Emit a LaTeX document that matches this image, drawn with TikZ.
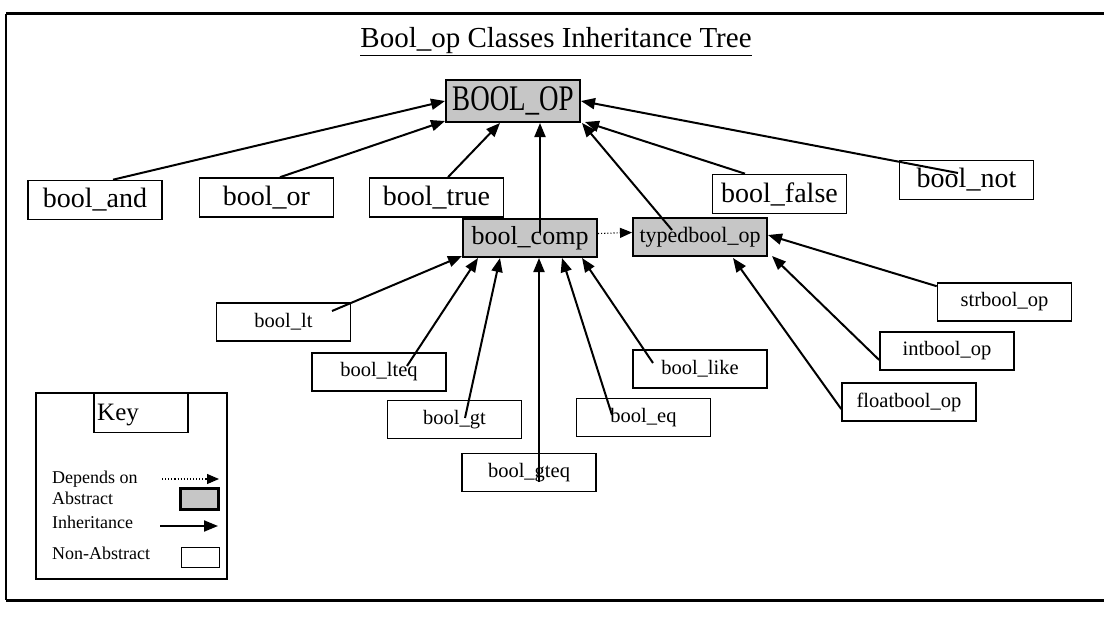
\documentclass[tikz,border=0pt]{standalone}
\usepackage{fontspec}
\setmainfont{Liberation Serif}
\usetikzlibrary{arrows.meta,calc}
\begin{document}
\begin{tikzpicture}[x=1pt,y=-1pt,
  box/.style={draw, line width=1.6pt, inner sep=0pt, minimum width=134pt, minimum height=38pt, font=\fontsize{20.5}{22}\selectfont},
  bigbox/.style={box, minimum height=39pt, font=\fontsize{28}{30}\selectfont},
  absbox/.style={box, fill=gray!45, line width=2pt},
  inh/.style={line width=2pt, -{Triangle[length=14pt,width=11pt]}},
  dep/.style={line width=1.1pt, dotted, -{Triangle[length=12pt,width=10pt]}},
  keytxt/.style={anchor=west, inner sep=0pt, font=\fontsize{18}{20}\selectfont},
]
\useasboundingbox (0,0) rectangle (1104,618);
% frame
\draw[line width=3pt] (1104,14) -- (6,14);
\draw[line width=2pt] (6,14) -- (6,600);
\draw[line width=3pt] (6,600) -- (1104,600);

% title
\node (title) at (556,42) {\fontsize{29}{30}\selectfont\underline{Bool\_op Classes Inheritance Tree}};

% nodes
\node[absbox, minimum height=42pt, font=\fontsize{36}{38}\selectfont] (boolop) at (513,101) {\scalebox{0.75}[1]{BOOL\_OP}};
\node[bigbox] (and) at (95,200) {bool\_and};
\node[bigbox] (or) at (266.5,197.5) {bool\_or};
\node[bigbox] (true) at (436.5,197.5) {bool\_true};
\node[bigbox] (false) at (779.5,194) {bool\_false};
\node[bigbox] (not) at (966.5,180) {bool\_not};
\node[absbox, font=\fontsize{26}{28}\selectfont] (comp) at (530,238) {bool\_comp};
\node[absbox, font=\fontsize{22}{24}\selectfont] (typed) at (700,237) {typedbool\_op};
\node[box] (lt) at (283.5,322) {bool\_lt};
\node[box] (lteq) at (379,372) {bool\_lteq};
\node[box] (gt) at (454.5,419.5) {bool\_gt};
\node[box] (gteq) at (529,472.5) {bool\_gteq};
\node[box] (eq) at (643.5,417.5) {bool\_eq};
\node[box] (like) at (700,369) {bool\_like};
\node[box] (str) at (1004.5,302) {strbool\_op};
\node[box] (int) at (947,351) {intbool\_op};
\node[box] (float) at (909,402) {floatbool\_op};

% inheritance to BOOL_OP
\draw[inh] ([xshift=18pt]and.north) -- (boolop.west);
\draw[inh] ([xshift=13.5pt]or.north) -- ([yshift=2pt]boolop.south west);
\draw[inh] ([xshift=11.5pt]true.north) -- ([xshift=-13pt]boolop.south);
\draw[inh] ([xshift=10pt,yshift=-14pt]comp.north) -- ([xshift=27pt]boolop.south);
\draw[inh] ([xshift=-28pt,yshift=7pt]typed.center) -- ([xshift=1pt]boolop.south east);
\draw[inh] ([xshift=-34.5pt]false.north) -- ([xshift=4pt,yshift=1pt]boolop.south east);
\draw[inh] ([xshift=-8.5pt,yshift=7pt]not.center) -- (boolop.east);
% depends
\draw[dep] ([yshift=4.5pt]comp.east) -- ([yshift=4.5pt]typed.west);
% inheritance to bool_comp
\draw[inh] ([xshift=48.5pt,yshift=11pt]lt.center) -- ([yshift=2pt]comp.south west);
\draw[inh] ([xshift=28pt,yshift=6pt]lteq.center) -- ([xshift=-52pt]comp.south);
\draw[inh] ([xshift=10.5pt,yshift=1.5pt]gt.center) -- ([xshift=-30pt]comp.south);
\draw[inh] ([xshift=10pt,yshift=-9.5pt]gteq.center) -- ([xshift=9pt]comp.south);
\draw[inh] ([xshift=-31.5pt,yshift=2.5pt]eq.center) -- ([xshift=32pt]comp.south);
\draw[inh] ([xshift=-47pt,yshift=6pt]like.center) -- ([xshift=52pt]comp.south);
% inheritance to typedbool_op
\draw[inh] ([yshift=-4pt]str.north west) -- ([yshift=2pt]typed.east);
\draw[inh] ([yshift=-9pt]int.west) -- ([xshift=4pt,yshift=1pt]typed.south east);
\draw[inh] ([yshift=-7pt]float.west) -- ([xshift=33pt,yshift=-1pt]typed.south);

% key
\node[draw, line width=2pt, minimum width=191pt, minimum height=186pt, inner sep=0pt] (key) at (131.5,486) {};
\node[draw, line width=1.3pt, minimum width=94pt, minimum height=39pt, inner sep=0pt] (keyt) at (141,413) {};
\node[anchor=west, inner sep=0pt, font=\fontsize{25}{27}\selectfont] (keylbl) at (97,415) {Key};
\node[keytxt] (kdep) at (52,479) {Depends on};
\node[keytxt] (kabs) at (52,498) {Abstract};
\node[keytxt] (kinh) at (52,522) {Inheritance};
\node[keytxt] (knon) at (52,553) {Non-Abstract};
\coordinate (d1) at (162,479);
\coordinate (d2) at (219,479);
\draw[dep] (d1) -- (d2);
\node[draw, fill=gray!45, line width=2.5pt, minimum width=38pt, minimum height=21pt, inner sep=0pt] (legabs) at (199.5,499) {};
\coordinate (i1) at (160,526);
\coordinate (i2) at (218,526);
\draw[inh] (i1) -- (i2);
\node[draw, line width=1.8pt, minimum width=38pt, minimum height=20pt, inner sep=0pt] (legnon) at (200.5,557.5) {};
\end{tikzpicture}
\end{document}
